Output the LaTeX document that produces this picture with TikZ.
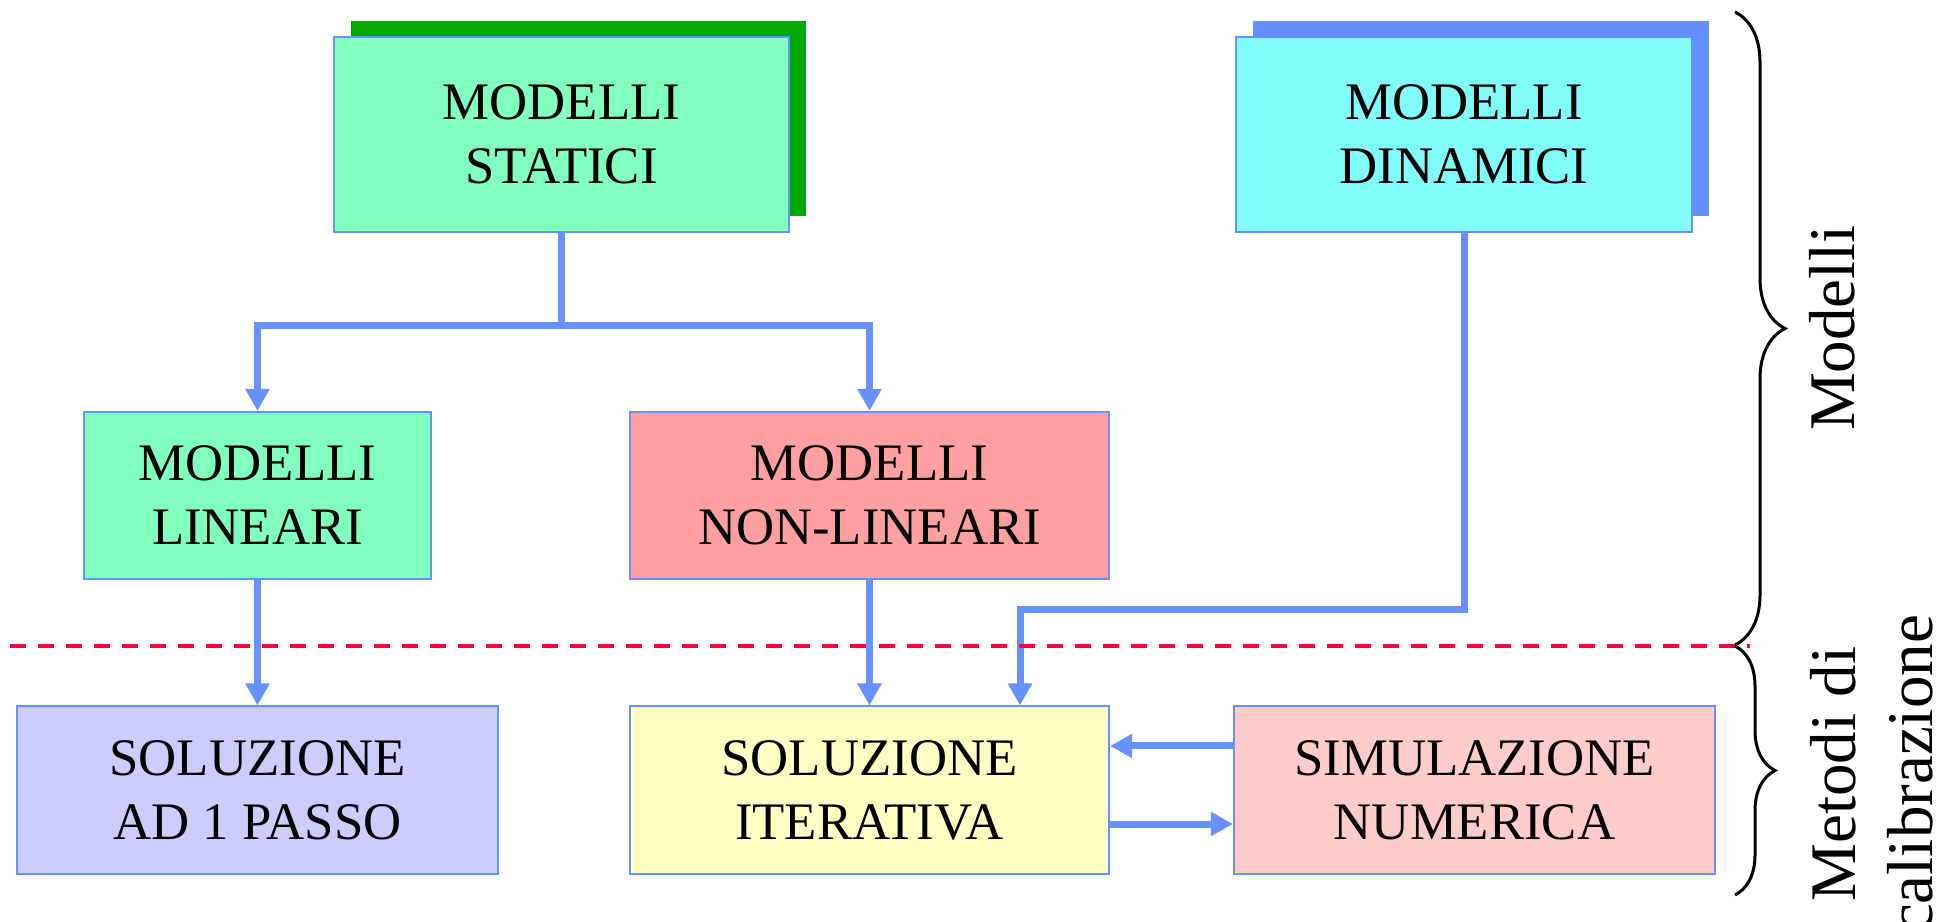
\documentclass[tikz,border=0pt]{standalone}
\usepackage{fontspec}
\setmainfont{Liberation Serif}
\usetikzlibrary{arrows.meta,decorations.pathreplacing,shadows}
\definecolor{lineblue}{RGB}{102,145,255}
\definecolor{mint}{RGB}{128,255,190}
\definecolor{cyanbox}{RGB}{128,252,250}
\definecolor{shadowgreen}{RGB}{0,168,0}
\definecolor{shadowblue}{RGB}{98,142,255}
\definecolor{rosebox}{RGB}{255,160,160}
\definecolor{lilac}{RGB}{204,204,255}
\definecolor{paleyellow}{RGB}{255,255,196}
\definecolor{pinkbox}{RGB}{255,204,204}
\definecolor{sepred}{RGB}{255,0,51}
\tikzset{
  box/.style={draw=lineblue, line width=0.02cm, align=center, inner sep=0pt,
    minimum height=1.67cm, font=\fontsize{15}{18.2}\selectfont},
  topbox/.style={box, minimum width=4.55cm, minimum height=1.95cm},
  link/.style={draw=lineblue, line width=0.07cm, -{Triangle[width=0.23cm,length=0.22cm]}},
  plainlink/.style={draw=lineblue, line width=0.07cm},
  sideline/.style={font=\fontsize{18.5}{22}\selectfont, rotate=90, align=center},
}

\begin{document}
\begin{tikzpicture}[x=0.01cm,y=-0.01cm]
    \useasboundingbox (0,0) rectangle (1957,922);

    \node[topbox, fill=mint,
      general shadow={fill=shadowgreen, shadow xshift=0.17cm, shadow yshift=0.16cm}]
      (statici) at (561.5,134.5) {MODELLI\\STATICI};
    \node[topbox, fill=cyanbox,
      general shadow={fill=shadowblue, shadow xshift=0.17cm, shadow yshift=0.16cm}]
      (dinamici) at (1464,134.5) {MODELLI\\DINAMICI};

    \node[box, fill=mint, minimum width=3.47cm] (lineari) at (257.5,495.5) {MODELLI\\LINEARI};
    \node[box, fill=rosebox, minimum width=4.79cm] (nonlineari) at (869.5,495.5) {MODELLI\\NON-LINEARI};

    \node[box, fill=lilac, minimum width=4.81cm] (passo) at (257.5,790) {SOLUZIONE\\AD 1 PASSO};
    \node[box, fill=paleyellow, minimum width=4.79cm] (iterativa) at (869.5,790) {SOLUZIONE\\ITERATIVA};
    \node[box, fill=pinkbox, minimum width=4.81cm] (simulazione) at (1474.5,790) {SIMULAZIONE\\NUMERICA};

    \coordinate (split) at (561.5,326);
    \coordinate (dynbend) at (1020,610);

    \draw[plainlink] (statici) -- (split);
    \draw[link] (split) -| (lineari);
    \draw[link] (split) -| (nonlineari);
    \draw[link] (lineari) -- (passo);
    \draw[link] (nonlineari) -- (iterativa);
    \draw[link] (dinamici) |- (dynbend) -- (dynbend |- iterativa.north);
    \draw[link] ([yshift=0.44cm]simulazione.west) -- ([yshift=0.44cm]iterativa.east);
    \draw[link] ([yshift=-0.34cm]iterativa.east) -- ([yshift=-0.34cm]simulazione.west);

    \draw[sepred, line width=0.045cm, dash pattern=on 0.16cm off 0.12cm] (10,646) -- (1750,646);

    \draw[line width=0.03cm, decorate, decoration={brace, amplitude=0.5cm}] (1735,12) -- (1735,645);
    \draw[line width=0.03cm, decorate, decoration={brace, amplitude=0.4cm}] (1735,646) -- (1735,895);

    \node[sideline] (modelli) at (1832,328) {Modelli};
    \node[sideline] (metodi) at (1872,774) {Metodi di\\calibrazione};
\end{tikzpicture}
\end{document}
